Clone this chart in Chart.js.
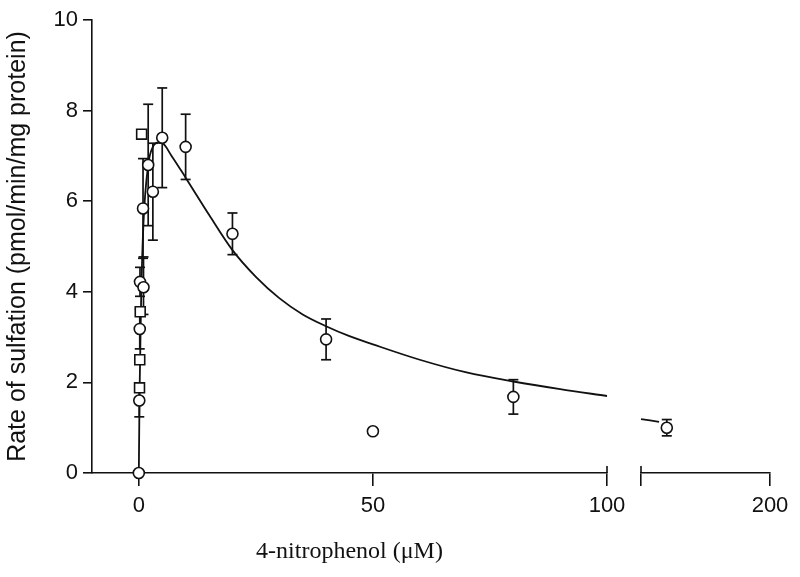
<!DOCTYPE html>
<html>
<head>
<meta charset="utf-8">
<script src="https://cdn.jsdelivr.net/npm/chart.js@4/dist/chart.umd.min.js"></script>
<style>
  html, body { margin: 0; padding: 0; background: #fff; }
  #wrap { width: 800px; height: 577px; }
</style>
</head>
<body>
<div id="wrap"><canvas id="sulfChart" width="800" height="577"></canvas></div>
<script>
// circles: mean rate at each 4-nitrophenol concentration (uM), with SEM bar ends
const concCircle = [0, 0.1, 0.2, 0.25, 1, 0.9, 2, 3, 5, 10, 20, 40, 50, 80];
const rateCircle = [0, 1.6, 3.18, 4.22, 4.1, 5.84, 6.8, 6.21, 7.4, 7.2, 5.28, 2.95, 0.92, 1.68];
const errLowCircle = [null, 1.24, 2.74, 3.9, 3.5, 4.74, 5.46, 5.14, 6.3, 6.48, 4.82, 2.5, null, 1.3];
const errHighCircle = [null, 1.96, 3.62, 4.54, 4.77, 6.94, 8.14, 7.28, 8.5, 7.92, 5.74, 3.4, null, 2.06];

// squares near zero
const concSquare = [0.15, 0.2, 0.3, 0.6];
const rateSquare = [1.88, 2.5, 3.56, 7.48];

// point past the axis break
const concHigh = [160];
const rateHigh = [1.0];
const errLowHigh = [0.82];
const errHighHigh = [1.18];

// fitted curve
const fitConc = [0, 0.1, 0.2, 0.5, 1, 2, 3, 4, 5, 7, 10, 15, 20, 25, 30, 35, 40, 45, 50, 60, 70, 80, 90, 100];
const fitRate = [0, 1.13, 2.03, 3.88, 5.53, 6.8, 7.2, 7.29, 7.28, 7.0, 6.52, 5.7, 4.92, 4.33, 3.86, 3.5, 3.24, 3.02, 2.84, 2.5, 2.22, 2.02, 1.85, 1.7];
const fitConcHigh = [150, 157];
const fitRateHigh = [1.19, 1.13];

const xTicksLow = [0, 50, 100];
const xTicksHigh = [150, 200];
const xTickLabelsHigh = ["", "200"];
const yTicks = [0, 2, 4, 6, 8, 10];

const INK = "#111";
const toPts = (xs, ys) => xs.map((x, i) => ({ x, y: ys[i] }));

function errorBars(xs, lo, hi, axis) {
  return xs.map((x, i) => ({
    data: lo[i] == null ? [] : [{ x, y: lo[i] }, { x, y: hi[i] }],
    xAxisID: axis,
    showLine: true,
    borderColor: INK,
    borderWidth: 1.7,
    pointStyle: "line",
    pointRadius: 5,
    pointBorderColor: INK,
    pointBorderWidth: 1.7,
    clip: false,
    order: 1
  }));
}

const markerBase = {
  backgroundColor: "#fff",
  pointBackgroundColor: "#fff",
  pointBorderColor: INK,
  pointBorderWidth: 1.6,
  clip: false,
  order: 0
};

const curveBase = {
  showLine: true,
  borderColor: INK,
  borderWidth: 1.8,
  pointRadius: 0,
  cubicInterpolationMode: "monotone",
  clip: false,
  order: 2
};

const breakMarks = {
  id: "breakMarks",
  afterDraw(chart) {
    const { ctx, scales } = chart;
    const a = scales.x, b = scales.x2;
    ctx.save();
    ctx.strokeStyle = INK;
    ctx.lineWidth = 1.6;
    ctx.beginPath();
    const p1 = a.getPixelForValue(xTicksLow[xTicksLow.length - 1]);
    const p2 = b.getPixelForValue(xTicksHigh[0]);
    ctx.moveTo(p1, a.top - 7); ctx.lineTo(p1, a.top);
    ctx.moveTo(p2, b.top - 7); ctx.lineTo(p2, b.top);
    ctx.stroke();
    ctx.restore();
  }
};

const tickFont = { family: "'Liberation Sans', Arial, sans-serif", size: 22 };

new Chart(document.getElementById("sulfChart"), {
  type: "scatter",
  data: {
    datasets: [
      { ...markerBase, data: toPts(concCircle, rateCircle), xAxisID: "x", pointStyle: "circle", pointRadius: 5.5 },
      { ...markerBase, data: toPts(concSquare, rateSquare), xAxisID: "x", pointStyle: "rect", pointRadius: 7 },
      { ...markerBase, data: toPts(concHigh, rateHigh), xAxisID: "x2", pointStyle: "circle", pointRadius: 5.5 },
      ...errorBars(concCircle, errLowCircle, errHighCircle, "x"),
      ...errorBars(concHigh, errLowHigh, errHighHigh, "x2"),
      { ...curveBase, data: toPts(fitConc, fitRate), xAxisID: "x" },
      { ...curveBase, data: toPts(fitConcHigh, fitRateHigh), xAxisID: "x2" }
    ]
  },
  options: {
    responsive: false,
    animation: false,
    devicePixelRatio: 1,
    layout: { padding: { left: 0, top: 20, right: 30, bottom: 0 } },
    plugins: { legend: { display: false }, tooltip: { enabled: false } },
    scales: {
      x: {
        type: "linear",
        position: "bottom",
        stack: "xb",
        stackWeight: 515,
        min: -10,
        max: 100,
        afterBuildTicks: s => { s.ticks = xTicksLow.map(v => ({ value: v })); },
        afterFit: s => { s.height = 104; },
        grid: { drawOnChartArea: false, color: INK, lineWidth: 1.6, tickLength: 13 },
        border: { display: true, color: INK, width: 1.6 },
        ticks: { color: INK, font: tickFont, padding: 7, maxRotation: 0 },
        title: {
          display: true,
          text: "4-nitrophenol (μM)",
          color: INK,
          font: { family: "'Liberation Serif', 'Times New Roman', serif", size: 24 },
          padding: { top: 0, bottom: 11 }
        }
      },
      gap: {
        type: "linear",
        position: "bottom",
        stack: "xb",
        stackWeight: 34,
        display: false
      },
      x2: {
        type: "linear",
        position: "bottom",
        stack: "xb",
        stackWeight: 129,
        min: 150,
        max: 200,
        afterBuildTicks: s => { s.ticks = xTicksHigh.map(v => ({ value: v })); },
        grid: { drawOnChartArea: false, color: INK, lineWidth: 1.6, tickLength: 13 },
        border: { display: true, color: INK, width: 1.6 },
        ticks: {
          color: INK, font: tickFont, padding: 7, maxRotation: 0,
          callback: (v, i) => xTickLabelsHigh[i]
        }
      },
      y: {
        type: "linear",
        position: "left",
        min: 0,
        max: 10,
        afterBuildTicks: s => { s.ticks = yTicks.map(v => ({ value: v })); },
        afterFit: s => { s.width = 92; },
        grid: { drawOnChartArea: false, color: INK, lineWidth: 1.6, tickLength: 9 },
        border: { display: true, color: INK, width: 1.6 },
        ticks: { color: INK, font: tickFont, padding: 5 },
        title: {
          display: true,
          text: "Rate of sulfation (pmol/min/mg protein)",
          color: INK,
          font: { family: "'Liberation Sans', Arial, sans-serif", size: 25 },
          padding: { top: 3, bottom: 0 }
        }
      }
    }
  },
  plugins: [breakMarks]
});
</script>
</body>
</html>
